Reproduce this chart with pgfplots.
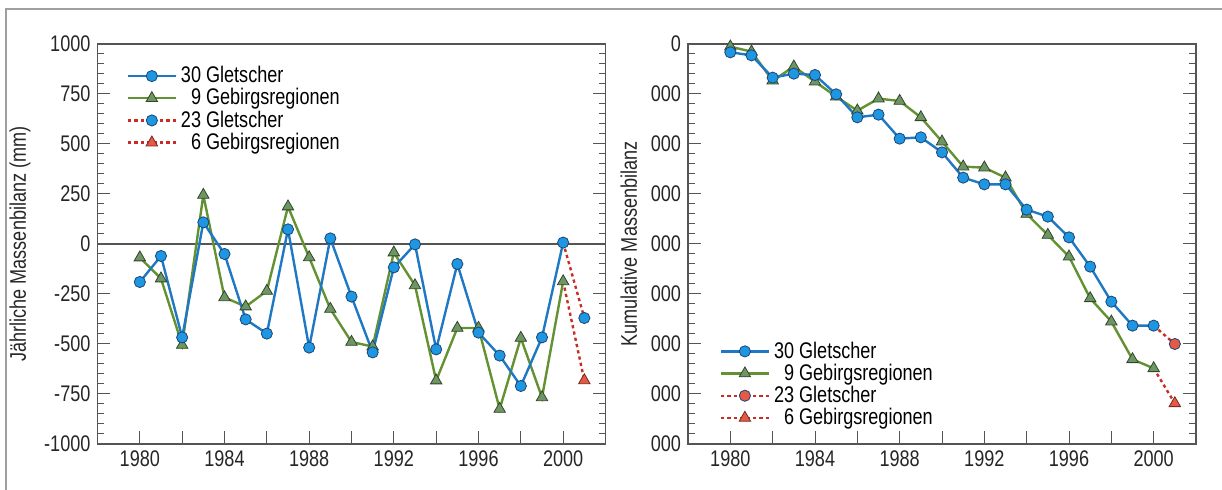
\documentclass[border=0pt]{standalone}
\usepackage{fontspec}
\setmainfont{Liberation Sans}[FakeStretch=0.8]
\usepackage{pgfplots}
\pgfplotsset{compat=1.18}

\definecolor{blueline}{RGB}{30,120,195}
\definecolor{bluefill}{RGB}{30,150,225}
\definecolor{blueedge}{RGB}{25,70,115}
\definecolor{greenline}{RGB}{100,145,50}
\definecolor{greenfill}{RGB}{110,150,100}
\definecolor{greenedge}{RGB}{50,70,40}
\definecolor{redline}{RGB}{200,45,35}
\definecolor{redfill}{RGB}{228,90,70}
\definecolor{rededge}{RGB}{120,40,30}
\definecolor{axisgray}{RGB}{85,85,85}

\pgfplotsset{
  mb/.style={
    scale only axis, width=254pt, height=200pt,
    xmin=1978, xmax=2002,
    xtick={1980,1982,...,2000},
    xticklabels={1980,,1984,,1988,,1992,,1996,,2000},
    xtick pos=bottom, ytick pos=both,
    tick align=inside,
    major tick length=6.5pt, minor tick length=3.5pt,
    minor y tick num=4,
    axis line style={axisgray, line width=0.7pt},
    tick style={axisgray, line width=0.5pt},
    every tick label/.append style={font=\fontsize{11.3}{13.5}\selectfont, text=black!85},
    /pgf/number format/assume math mode=true,
    /pgf/number format/1000 sep={},
    label style={font=\fontsize{11.3}{13.5}\selectfont, text=black!85},
    legend cell align=left,
    legend style={draw=none, fill=none, font=\fontsize{11.3}{13.5}\selectfont, row sep=-2.6pt},
    legend image code/.code={\draw[mark repeat=2,mark phase=2] plot coordinates {(0cm,0cm) (0.42cm,0cm) (0.84cm,0cm)};},
  },
  s30/.style={blueline, line width=1.2pt, mark=*, mark size=2.8pt,
    mark options={solid, fill=bluefill, draw=blueedge, line width=0.4pt}},
  s9/.style={greenline, line width=1.2pt, mark=triangle*, mark size=3.3pt,
    mark options={solid, fill=greenfill, draw=greenedge, line width=0.4pt}},
  s23/.style={redline, line width=1.2pt, dash pattern=on 1.6pt off 1.6pt, mark=*, mark size=2.8pt,
    mark options={solid, fill=#1, draw=blueedge, line width=0.4pt}},
  s6/.style={redline, line width=1.2pt, dash pattern=on 1.6pt off 1.6pt, mark=triangle*, mark size=3.3pt,
    mark options={solid, fill=redfill, draw=rededge, line width=0.4pt}},
}

\begin{document}
\begin{tikzpicture}
\useasboundingbox (0,0) rectangle (611pt,245pt);
\draw[gray!75, line width=0.6pt] (3pt,-5pt) -- (3pt,240.5pt) -- (620pt,240.5pt);

% jaehrliche Massenbilanz
\begin{axis}[mb, at={(48.75pt,23pt)}, anchor=south west,
  ymin=-1000, ymax=1000, ytick={-1000,-750,...,1000},
  extra y ticks={0}, extra y tick labels={},
  extra y tick style={grid=major, major grid style={axisgray, line width=0.6pt}},
  ylabel={Jährliche Massenbilanz (mm)},
  legend style={at={(0.045,0.965)}, anchor=north west},
]
\addplot[s9, forget plot] coordinates {
 (1980,-68) (1981,-173) (1982,-505) (1983,245) (1984,-267) (1985,-313) (1986,-235)
 (1987,187) (1988,-67) (1989,-325) (1990,-490) (1991,-513) (1992,-43) (1993,-207)
 (1994,-683) (1995,-420) (1996,-420) (1997,-825) (1998,-470) (1999,-767) (2000,-187)};
\addplot[s30, forget plot] coordinates {
 (1980,-190) (1981,-60) (1982,-467) (1983,108) (1984,-50) (1985,-377) (1986,-448)
 (1987,73) (1988,-518) (1989,28) (1990,-263) (1991,-542) (1992,-117) (1993,-2)
 (1994,-527) (1995,-100) (1996,-443) (1997,-558) (1998,-710) (1999,-467) (2000,7)};
\addplot[s23=bluefill, mark indices={2}, forget plot] coordinates {(2000,7) (2001,-370)};
\addplot[s6, mark indices={2}, forget plot] coordinates {(2000,-187) (2001,-682)};
\addlegendimage{s30}\addlegendentry{30 Gletscher}
\addlegendimage{s9}\addlegendentry{\phantom{3}9 Gebirgsregionen}
\addlegendimage{s23=bluefill}\addlegendentry{23 Gletscher}
\addlegendimage{s6}\addlegendentry{\phantom{2}6 Gebirgsregionen}
\end{axis}

% kumulative Massenbilanz
\begin{axis}[mb, at={(344pt,23pt)}, anchor=south west,
  ymin=-8000, ymax=0, ytick={-8000,-7000,...,0},
  yticklabels={000,000,000,000,000,000,000,000,0},
  ylabel={Kumulative Massenbilanz},
  legend style={at={(0.05,0.02)}, anchor=south west},
]
\addplot[s9, forget plot] coordinates {
 (1980,-53) (1981,-153) (1982,-733) (1983,-453) (1984,-753) (1985,-1053) (1986,-1333)
 (1987,-1093) (1988,-1140) (1989,-1467) (1990,-1953) (1991,-2453) (1992,-2473) (1993,-2673)
 (1994,-3400) (1995,-3820) (1996,-4253) (1997,-5087) (1998,-5553) (1999,-6307) (2000,-6487)};
\addplot[s30, forget plot] coordinates {
 (1980,-166) (1981,-227) (1982,-673) (1983,-593) (1984,-620) (1985,-1007) (1986,-1467)
 (1987,-1413) (1988,-1893) (1989,-1867) (1990,-2167) (1991,-2673) (1992,-2807) (1993,-2807)
 (1994,-3313) (1995,-3453) (1996,-3867) (1997,-4453) (1998,-5153) (1999,-5633) (2000,-5633)};
\addplot[s23=redfill, mark indices={2}, forget plot] coordinates {(2000,-5633) (2001,-6000)};
\addplot[s6, mark indices={2}, forget plot] coordinates {(2000,-6487) (2001,-7187)};
\addlegendimage{s30}\addlegendentry{30 Gletscher}
\addlegendimage{s9}\addlegendentry{\phantom{3}9 Gebirgsregionen}
\addlegendimage{s23=redfill}\addlegendentry{23 Gletscher}
\addlegendimage{s6}\addlegendentry{\phantom{2}6 Gebirgsregionen}
\end{axis}
\end{tikzpicture}
\end{document}
